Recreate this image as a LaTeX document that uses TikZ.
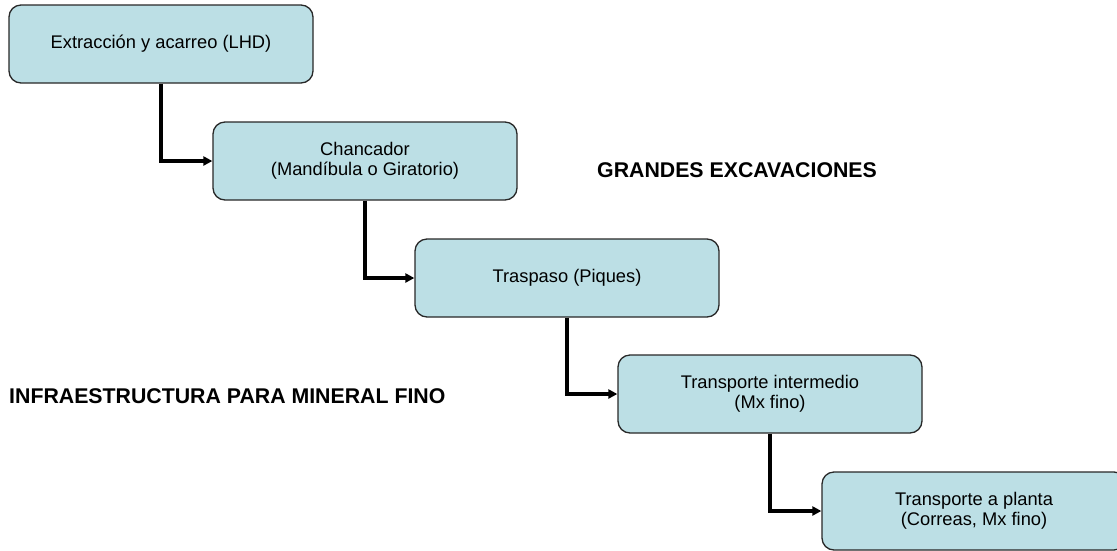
\documentclass[tikz,border=0pt]{standalone}
\usepackage{fontspec}
\setmainfont{Liberation Sans}
\usetikzlibrary{arrows.meta}
\definecolor{stepfill}{RGB}{188,223,229}
\definecolor{stepline}{RGB}{40,40,40}
\begin{document}
\begin{tikzpicture}[x=1pt,y=-1pt,
  stepbox/.style={draw=stepline, line width=1.3pt, fill=stepfill,
    rounded corners=12pt, minimum width=304pt, minimum height=78pt,
    inner sep=0pt, align=center,
    font=\fontsize{18.3}{20.5}\selectfont},
  conn/.style={line width=3.2pt, -{Triangle[length=9pt,width=9pt]}},
  heading/.style={font=\fontsize{21.3}{24}\selectfont\bfseries, inner sep=0pt}]
  \useasboundingbox (0,0) rectangle (1117,550);

  % process steps, stepping down to the right
  \node[stepbox] (b1) at (161,44)  {Extracción y acarreo (LHD)};
  \node[stepbox] (b2) at (365,161) {Chancador\\(Mandíbula o Giratorio)};
  \node[stepbox] (b3) at (567,278) {Traspaso (Piques)};
  \node[stepbox] (b4) at (770,394) {Transporte intermedio\\(Mx fino)};
  \node[stepbox] (b5) at (974,511) {Transporte a planta\\(Correas, Mx fino)};

  % elbow connectors between consecutive steps
  \draw[conn] (b1.south) |- (b2.west);
  \draw[conn] (b2.south) |- (b3.west);
  \draw[conn] (b3.south) |- (b4.west);
  \draw[conn] (b4.south) |- (b5.west);

  % headings
  \node[heading, anchor=west] (hgrandes) at (597,170) {GRANDES EXCAVACIONES};
  \node[heading, anchor=west] (hinfra) at (9,396) {INFRAESTRUCTURA PARA MINERAL FINO};
\end{tikzpicture}
\end{document}
